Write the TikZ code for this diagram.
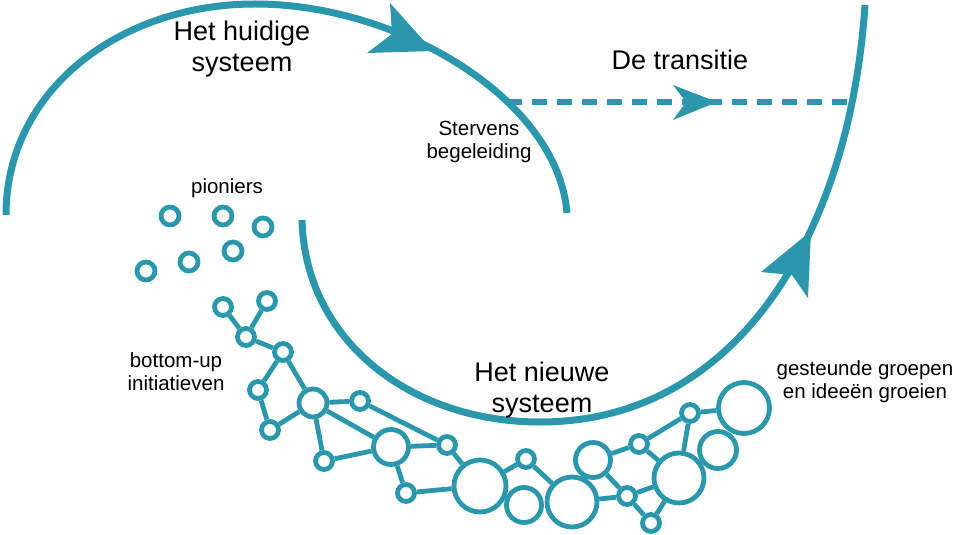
\documentclass[tikz,border=0pt]{standalone}
\usepackage{fontspec}
\setmainfont{Liberation Sans}
\definecolor{tl}{RGB}{42,151,172}
\begin{document}
\begin{tikzpicture}[x=0.5pt,y=-0.5pt,
  arc/.style={draw=tl, line width=3.5pt},
  ring/.style={circle, draw=tl, fill=white, line width=2.4pt, inner sep=0pt, minimum size=#1},
  ring/.default=8.5pt,
  link/.style={draw=tl, line width=2.4pt},
  big/.style={font=\fontsize{13.5pt}{15.5pt}\selectfont, align=center, inner sep=0pt, anchor=north},
  small/.style={font=\fontsize{10.25pt}{11.5pt}\selectfont, align=center, inner sep=0pt, anchor=north}]
\useasboundingbox (0,0) rectangle (960,535);
% main arcs
\coordinate (tA) at (6,215); \coordinate (tB) at (255,4); \coordinate (tC) at (567,213);
\draw[arc] (tA) .. controls (6,90) and (120,4) .. (tB) .. controls (400,4) and (558,100) .. (tC);
\coordinate (bA) at (302,220); \coordinate (bB) at (540,422); \coordinate (bC) at (865,5);
\draw[arc] (bA) .. controls (305,340) and (410,422) .. (bB) .. controls (740,422) and (850,230) .. (bC);
\coordinate (dL) at (507,102); \coordinate (dR) at (851,102);
\draw[tl, line width=3pt, dash pattern=on 7.5pt off 5pt] (dL) -- (dR);
% arrowheads
\fill[tl] (433,51) -- (390,3) -- (392,34) -- (367,53) -- cycle;
\fill[tl] (717,102) -- (673,85) -- (686,102) -- (673,120) -- cycle;
\fill[tl] (811,231) -- (761,272) -- (792,275) -- (808,298) -- cycle;
% labels
\node[big] (t1) at (242,21) {Het huidige\\systeem};
\node[big] (t2) at (680,50) {De transitie};
\node[big] (t3) at (542,362) {Het nieuwe\\systeem};
\node[small] (t4) at (479,121) {Stervens\\begeleiding};
\node[small] (t5) at (227,178) {pioniers};
\node[small] (t6) at (176,352) {bottom-up\\initiatieven};
\node[small] (t7) at (865,360) {gesteunde groepen\\en ideeën groeien};
% pioneers
\node[ring=9pt] (p1) at (170,216) {};
\node[ring=9pt] (p2) at (223,216) {};
\node[ring=9pt] (p3) at (263,227) {};
\node[ring=9pt] (p4) at (233,251) {};
\node[ring=9pt] (p5) at (189,262) {};
\node[ring=9pt] (p6) at (146,271) {};
% network
\node[ring] (a) at (223,307) {};
\node[ring] (b) at (267,301) {};
\node[ring] (c) at (246,337) {};
\node[ring] (d) at (283,352) {};
\node[ring] (e) at (258,390) {};
\node[ring] (f) at (270,430) {};
\node[ring=14pt] (g) at (313,403) {};
\node[ring] (h) at (360,401) {};
\node[ring] (i) at (324,461) {};
\node[ring=17.5pt] (j) at (391,447) {};
\node[ring] (k) at (447,445) {};
\node[ring] (l) at (406,493) {};
\node[ring=26pt] (m) at (480,486) {};
\node[ring=17.5pt] (n) at (524,505) {};
\node[ring] (o) at (526,459) {};
\node[ring=25pt] (p) at (572,502) {};
\node[ring=17.5pt] (q) at (593,460) {};
\node[ring] (r) at (627,496) {};
\node[ring] (s) at (639,444) {};
\node[ring] (t) at (651,523) {};
\node[ring=25pt] (u) at (679,478) {};
\node[ring] (v) at (690,413) {};
\node[ring=18.5pt] (w) at (718,450) {};
\node[ring=25.5pt] (x) at (744,408) {};
\foreach \s/\e in {a/c,b/c,c/d,d/e,d/g,e/f,f/g,g/h,g/i,g/j,i/j,h/k,j/k,j/l,l/m,k/m,m/o,o/p,q/s,q/r,p/r,r/t,r/u,s/u,s/v,t/u,v/u,v/x}
  \draw[link] (\s) -- (\e);
\end{tikzpicture}
\end{document}
